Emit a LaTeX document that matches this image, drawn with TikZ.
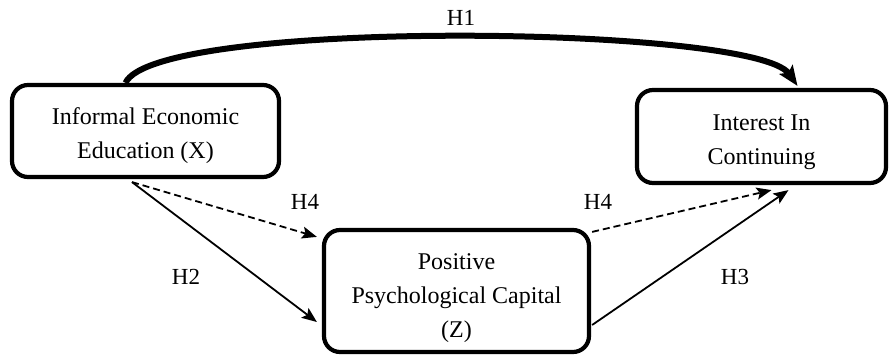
\documentclass[tikz,border=0pt]{standalone}
\usepackage{fontspec}
\setmainfont{Liberation Serif}
\usetikzlibrary{arrows.meta,calc}
\tikzset{
  box/.style={draw,line width=4.2pt,rounded corners=16pt,align=center,inner sep=0pt,
    font=\fontsize{24}{34}\selectfont},
  lbl/.style={font=\fontsize{23}{26}\selectfont,inner sep=0pt},
  conn/.style={line width=1.8pt,-{Stealth[length=15pt,width=12pt,inset=3pt]}},
  dconn/.style={conn,dash pattern=on 7pt off 4pt},
  big/.style={line width=6pt,-{Stealth[length=20pt,width=16pt,inset=4pt]}}
}
\begin{document}
\begin{tikzpicture}[x=1pt,y=-1pt]
\useasboundingbox (0,0) rectangle (893,356);
\node[box,minimum width=267pt,minimum height=92pt] (X) at (145.5,131) {\rule{0pt}{27pt}Informal Economic\\Education (X)};
\node[box,minimum width=249pt,minimum height=93pt] (Y) at (761.5,136.5) {\rule{0pt}{27pt}Interest In\\Continuing};
\node[box,minimum width=265pt,minimum height=122pt] (Z) at (456.5,291) {\rule{0pt}{31pt}Positive\\Psychological Capital\\(Z)};
\coordinate (h1s) at ($(X.north)+(-20,0)$);
\coordinate (h1e) at ($(Y.north)+(36,-2)$);
\draw[big] (h1s) .. controls (155,18) and (755,25) .. (h1e);
\draw[dconn] ([xshift=-13.5pt,yshift=-3pt]X.south) -- ([xshift=-5pt,yshift=-9pt]Z.north west);
\draw[conn] ([xshift=-13.5pt,yshift=-3pt]X.south) -- ([xshift=-5pt,yshift=-31pt]Z.west);
\draw[dconn] ([xshift=1pt,yshift=-4pt]Z.north east) -- ([xshift=10pt,yshift=-5pt]Y.south);
\draw[conn] ([xshift=1pt,yshift=-34pt]Z.east) -- ([xshift=27pt,yshift=-5pt]Y.south);
\node[lbl] (l1) at (461,18) {H1};
\node[lbl] (l4a) at (305,202) {H4};
\node[lbl] (l4b) at (598,202) {H4};
\node[lbl] (l2) at (186,277) {H2};
\node[lbl] (l3) at (735,277) {H3};
\end{tikzpicture}
\end{document}
